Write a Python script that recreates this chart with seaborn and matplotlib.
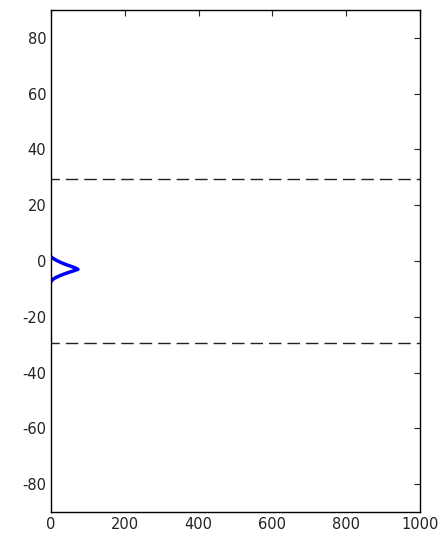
import numpy as np
import pandas as pd
import matplotlib
matplotlib.use("Agg")
import matplotlib.pyplot as plt
import seaborn as sns

# histogram: value (y) vs count (x)
valores = [1.5, 1.0, 0.5, 0.0, -0.5, -1.0, -1.5, -2.0, -2.5, -3.0, -3.5, -4.0,
           -4.5, -5.0, -5.5, -6.0, -6.5, -7.0, -7.5]
contagens = [0, 5, 11, 18, 26, 35, 45, 56, 66, 73, 62, 50, 39, 29, 20, 12, 6, 2, 0]
limiares = [29.3, -29.3]

sns.set_theme(style="white")
plt.rcParams['font.family'] = ['DejaVu Sans']
plt.rcParams['axes.unicode_minus'] = False

df = pd.DataFrame({'Contagem': contagens, 'Valor': valores})

fig = plt.figure(figsize=(4.42, 5.37), dpi=100)
ax = fig.add_axes([0.1154, 0.0466, 0.8348, 0.9348])

sns.lineplot(data=df, x='Contagem', y='Valor', sort=False, estimator=None,
             color='#0000ff', linewidth=2.5, ax=ax)
for lim in limiares:
    ax.axhline(lim, color='#222222', linestyle=(3, (9, 4.3)), linewidth=1)

ax.set_xlim(0, 1000)
ax.set_ylim(-90, 90)
ax.set_xticks([0, 200, 400, 600, 800, 1000])
ax.set_yticks([-80, -60, -40, -20, 0, 20, 40, 60, 80])
ax.set_xlabel('')
ax.set_ylabel('')
ax.tick_params(direction='in', top=True, right=True, length=4, width=0.8,
               labelsize=10.5, colors='#222222')
for s in ax.spines.values():
    s.set_color('black')
    s.set_linewidth(1)

plt.savefig('out.png', dpi=100)
